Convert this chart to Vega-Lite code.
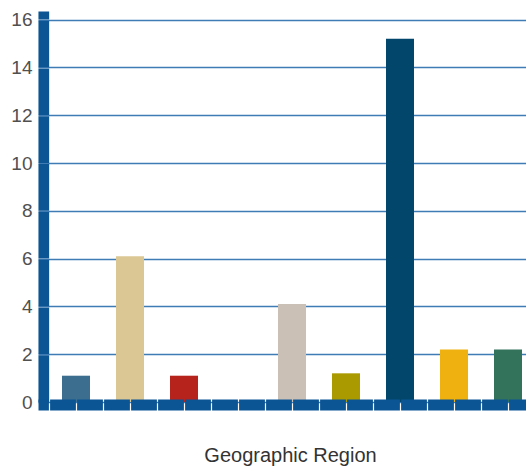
{
  "$schema": "https://vega.github.io/schema/vega-lite/v6.json",
  "autosize": "none",
  "width": 488,
  "height": 391,
  "padding": {"left": 38, "top": 11, "right": 0, "bottom": 64},
  "background": "white",
  "config": {
    "view": {"stroke": null},
    "font": "Liberation Sans"
  },
  "data": {
    "values": [
      {"slot": 1, "value": 1.1},
      {"slot": 2, "value": 6.1},
      {"slot": 3, "value": 1.1},
      {"slot": 4, "value": 0},
      {"slot": 5, "value": 4.1},
      {"slot": 6, "value": 1.2},
      {"slot": 7, "value": 15.2},
      {"slot": 8, "value": 2.2},
      {"slot": 9, "value": 2.2}
    ]
  },
  "mark": {"type": "bar", "size": 28},
  "encoding": {
    "x": {
      "field": "slot",
      "type": "quantitative",
      "scale": {"domain": [0.2963, 9.3333], "nice": false, "zero": false, "padding": 0},
      "axis": {
        "title": "Geographic Region",
        "titleFont": "Liberation Sans",
        "titleFontSize": 20,
        "titleFontWeight": "normal",
        "titleColor": "#333333",
        "titleX": 252,
        "titleY": 57,
        "titleAlign": "center",
        "titleBaseline": "alphabetic",
        "labels": false,
        "ticks": false,
        "grid": false,
        "offset": 2.5,
        "domainColor": "#0b5595",
        "domainWidth": 11,
        "domainDash": [25.8, 1.2],
        "domainDashOffset": 15.4,
        "zindex": 1
      }
    },
    "y": {
      "field": "value",
      "type": "quantitative",
      "scale": {"domain": [0, 16.36], "nice": false},
      "axis": {
        "title": null,
        "values": [0, 2, 4, 6, 8, 10, 12, 14, 16],
        "offset": -5.3,
        "ticks": false,
        "labelPadding": 11.3,
        "labelFont": "Liberation Sans",
        "labelFontSize": 19,
        "labelColor": "#505050",
        "domainColor": "#0b5595",
        "domainWidth": 10.7,
        "domainDash": [46.6, 1.2],
        "domainDashOffset": 47.2,
        "grid": true,
        "gridColor": "#3f7bb5",
        "gridWidth": 1.5
      }
    },
    "color": {
      "field": "slot",
      "type": "nominal",
      "legend": null,
      "scale": {
        "range": ["#3b6e8f", "#dbc794", "#b5231c", "#888888", "#cbc0b5", "#aa9a00", "#03466b", "#eeb10f", "#33735c"]
      }
    }
  }
}
